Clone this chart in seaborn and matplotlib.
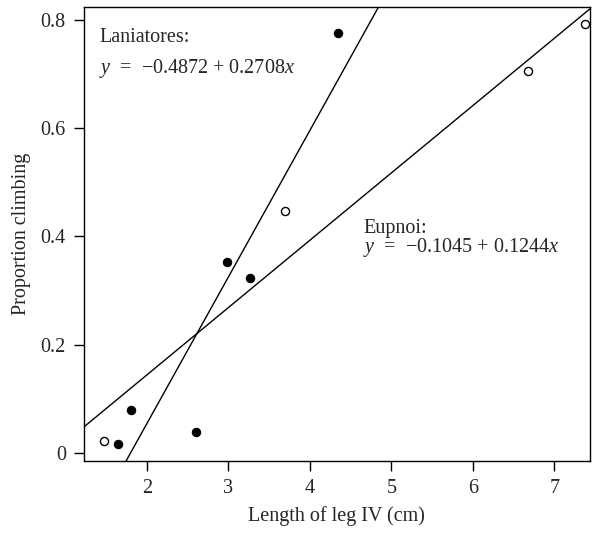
import matplotlib
matplotlib.use('Agg')
import matplotlib.pyplot as plt
import numpy as np
import pandas as pd
import seaborn as sns

# Laniatores (filled) and Eupnoi (open) points
lan_leg = [1.64, 1.81, 2.60, 2.98, 3.27, 4.35]
lan_prop = [0.016, 0.080, 0.038, 0.353, 0.324, 0.776]
eup_leg = [1.47, 3.70, 6.67, 7.37]
eup_prop = [0.022, 0.447, 0.705, 0.792]

# fitted lines: intercept, slope
lan_fit = (-0.4872, 0.2708)
eup_fit = (-0.1045, 0.1244)

x_ticks = [2, 3, 4, 5, 6, 7]
y_ticks = [0, 0.2, 0.4, 0.6, 0.8]
y_tick_labels = ['0', '0.2', '0.4', '0.6', '0.8']

sns.set_style('ticks')
plt.rcParams['font.family'] = ['Liberation Serif', 'DejaVu Serif']
plt.rcParams['mathtext.fontset'] = 'custom'
plt.rcParams['mathtext.rm'] = 'Liberation Serif'
plt.rcParams['mathtext.it'] = 'Liberation Serif:italic'

lan = pd.DataFrame({'leg': lan_leg, 'prop': lan_prop})
eup = pd.DataFrame({'leg': eup_leg, 'prop': eup_prop})

fig = plt.figure(figsize=(5.99, 5.33), dpi=100)
ax = fig.add_axes([0.140, 0.135, 0.845, 0.852])

ax.set_xlim(1.227, 7.436)
ax.set_ylim(-0.0148, 0.824)

ax.axline((0, lan_fit[0]), slope=lan_fit[1], color='black', lw=1.0)
ax.axline((0, eup_fit[0]), slope=eup_fit[1], color='black', lw=1.0)

sns.scatterplot(data=lan, x='leg', y='prop', ax=ax, color='black',
                s=36, edgecolor='black', linewidth=0.8, zorder=3)
sns.scatterplot(data=eup, x='leg', y='prop', ax=ax, color='white',
                s=34, edgecolor='black', linewidth=1.0, zorder=3)

ax.set_xticks(x_ticks)
ax.set_yticks(y_ticks)
ax.set_yticklabels(y_tick_labels)
ax.tick_params(axis='both', labelsize=14.5, length=7, width=1.0, color='black',
               direction='out', pad=6)
for s in ax.spines.values():
    s.set_color('black')
    s.set_linewidth(1.0)

ax.set_xlabel('Length of leg IV (cm)', fontsize=14.5, labelpad=6)
ax.set_ylabel('Proportion climbing', fontsize=14.5, labelpad=7)


def eq(a, b):
    return '$y$  =  \u2212%.4f + %.4f$x$' % (abs(a), b)


ax.text(1.42, 0.768, 'Laniatores:', fontsize=14.5, va='center', ha='left')
ax.text(1.41, 0.711, eq(*lan_fit), fontsize=14.5, va='center', ha='left')
ax.text(4.66, 0.415, 'Eupnoi:', fontsize=14.5, va='center', ha='left')
ax.text(4.65, 0.379, eq(*eup_fit), fontsize=14.5, va='center', ha='left')

fig.savefig('out.png', dpi=100)
